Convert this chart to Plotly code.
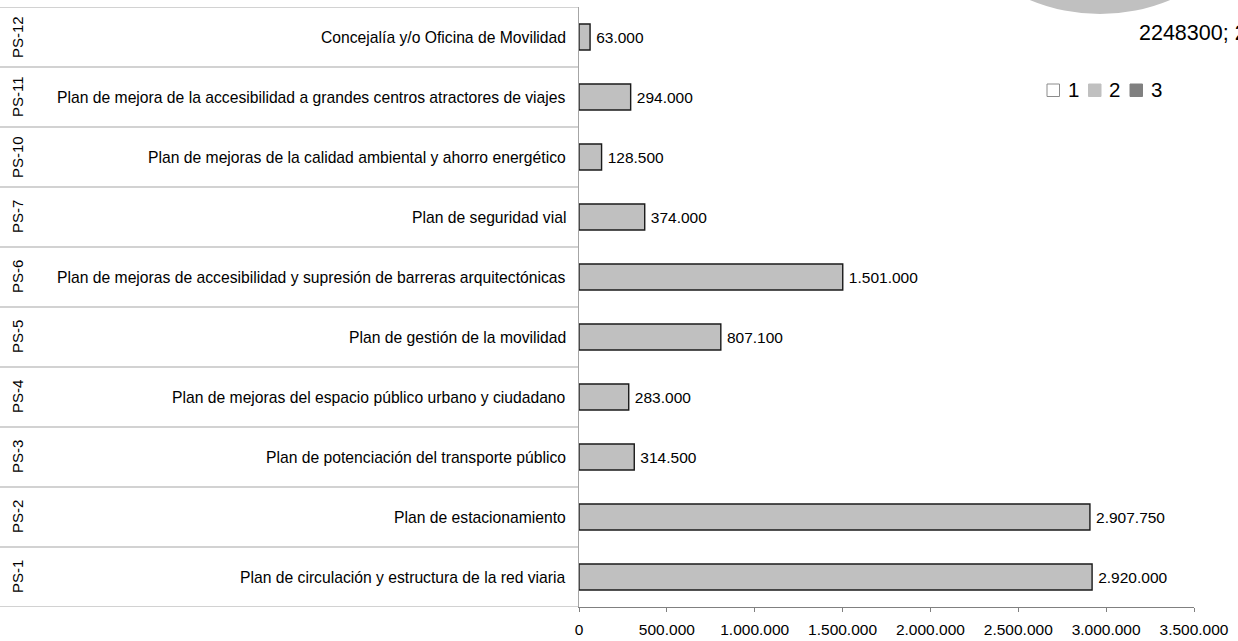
import plotly.graph_objects as go

# Plan codes (bottom to top), plan names and budgets
codes = ["PS-1", "PS-2", "PS-3", "PS-4", "PS-5", "PS-6", "PS-7", "PS-10", "PS-11", "PS-12"]
names = [
    "Plan de circulación y estructura de la red viaria",
    "Plan de estacionamiento",
    "Plan de potenciación del transporte público",
    "Plan de mejoras del espacio público urbano y ciudadano",
    "Plan de gestión de la movilidad",
    "Plan de mejoras de accesibilidad y supresión de barreras arquitectónicas",
    "Plan de seguridad vial",
    "Plan de mejoras de la calidad ambiental y ahorro energético",
    "Plan de mejora de la accesibilidad a grandes centros atractores de viajes",
    "Concejalía y/o Oficina de Movilidad",
]
budgets = [2920000, 2907750, 314500, 283000, 807100, 1501000, 374000, 128500, 294000, 63000]

x_ticks = [0, 500000, 1000000, 1500000, 2000000, 2500000, 3000000, 3500000]

# Pie fragment and its legend
pie_labels = ["1", "2", "3"]
pie_colors = ["#ffffff", "#c0c0c0", "#808080"]
pie_note = "2248300; 2"

W, H = 1238, 641
ML, MR, MT, MB = 579, 44, 7, 34
PW, PH = W - ML - MR, H - MT - MB
FONT = "Liberation Sans, Arial, sans-serif"


def px(x):
    return (x - ML) / PW


def py(y):
    return (H - MB - y) / PH


fig = go.Figure()
fig.add_trace(go.Bar(
    x=budgets,
    y=codes,
    orientation="h",
    width=0.435,
    marker=dict(color="#c0c0c0", line=dict(color="#1a1a1a", width=1.4)),
    texttemplate="\u2009%{x:,.0f}",
    textposition="outside",
    constraintext="none",
    cliponaxis=False,
    textfont=dict(family=FONT, size=15.5, color="#000"),
    hoverinfo="skip",
    showlegend=False,
))

shapes = []
annotations = []

# Row separators in the label column
for i in range(len(codes) + 1):
    shapes.append(dict(
        type="line", xref="paper", yref="y",
        x0=px(0), x1=0, y0=i - 0.5, y1=i - 0.5,
        line=dict(color="#a6a6a6", width=1.2),
    ))

# Two-level category labels
for code, name in zip(codes, names):
    annotations.append(dict(
        x=px(568), y=code, xref="paper", yref="y",
        text=name, showarrow=False, xanchor="right", yanchor="middle",
        font=dict(family=FONT, size=15.7, color="#000"),
    ))
    annotations.append(dict(
        x=px(17), y=code, xref="paper", yref="y",
        text=code, showarrow=False, xanchor="center", yanchor="middle",
        textangle=-90,
        font=dict(family=FONT, size=15, color="#000"),
    ))

# Pie fragment at the top right
cx, cy, r = 1100, -168, 182
shapes.append(dict(
    type="circle", xref="paper", yref="paper",
    x0=px(cx - r), x1=px(cx + r), y0=py(cy + r), y1=py(cy - r),
    fillcolor=pie_colors[1], line=dict(width=0),
))
annotations.append(dict(
    x=px(1137), y=py(33), xref="paper", yref="paper",
    text=pie_note, showarrow=False, xanchor="left", yanchor="middle",
    font=dict(family=FONT, size=21.5, color="#000"),
))

# Legend of the pie
sq = 12.5
for i, (lab, col) in enumerate(zip(pie_labels, pie_colors)):
    x0 = 1047 + i * 41.5
    shapes.append(dict(
        type="rect", xref="paper", yref="paper",
        x0=px(x0), x1=px(x0 + sq), y0=py(96.5), y1=py(84),
        fillcolor=col, line=dict(color="#8c8c8c" if i == 0 else col, width=1),
    ))
    annotations.append(dict(
        x=px(x0 + sq + 6), y=py(90), xref="paper", yref="paper",
        text=lab, showarrow=False, xanchor="left", yanchor="middle",
        font=dict(family=FONT, size=20.5, color="#000"),
    ))

fig.update_layout(
    width=W, height=H,
    margin=dict(l=ML, r=MR, t=MT, b=MB, pad=0, autoexpand=False),
    paper_bgcolor="white", plot_bgcolor="white",
    separators=",.",
    font=dict(family=FONT, size=15.5, color="#000"),
    bargap=0.5,
    xaxis=dict(
        range=[0, 3500000], tickvals=x_ticks, tickformat=",.0f",
        automargin=False,
        showgrid=False, zeroline=False,
        showline=True, linecolor="#808080", linewidth=1.3,
        ticks="outside", ticklen=4, tickcolor="#808080", tickwidth=1.3,
        ticklabelstandoff=4,
        tickfont=dict(family=FONT, size=15.5, color="#000"),
    ),
    yaxis=dict(
        categoryorder="array", categoryarray=codes,
        range=[-0.5, len(codes) - 0.5],
        automargin=False,
        showticklabels=False, showgrid=False, zeroline=False,
        showline=True, linecolor="#a6a6a6", linewidth=1.2,
        ticks="",
    ),
    shapes=shapes,
    annotations=annotations,
    showlegend=False,
)

fig.write_html("out.html")
